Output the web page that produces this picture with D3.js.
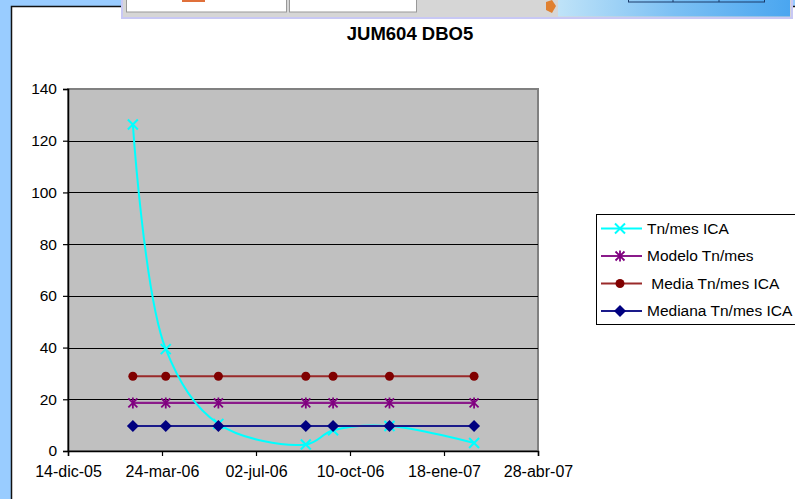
<!DOCTYPE html>
<html>
<head>
<meta charset="utf-8">
<script src="https://cdn.jsdelivr.net/npm/d3@7"></script>
<style>
  body { margin: 0; background: #99ccff; }
  svg { display: block; font-family: "Liberation Sans", Arial, sans-serif; }
</style>
</head>
<body>
<div id="vis"></div>
<script>
// Chart data
const dates = ["2006-02-21", "2006-03-28", "2006-05-23", "2006-08-24", "2006-09-22", "2006-11-21", "2007-02-19"]
const tnMesICA = [126.3, 39.4, 10.5, 2.5, 8.0, 9.7, 3.1]
const modelo = [18.6, 18.6, 18.6, 18.6, 18.6, 18.6, 18.6]
const media = [28.9, 28.9, 28.9, 28.9, 28.9, 28.9, 28.9]
const mediana = [9.7, 9.7, 9.7, 9.7, 9.7, 9.7, 9.7]
const xTickDates = ["2005-12-14", "2006-03-24", "2006-07-02", "2006-10-10", "2007-01-18", "2007-04-28"]
const xTickLabels = ["14-dic-05", "24-mar-06", "02-jul-06", "10-oct-06", "18-ene-07", "28-abr-07"]
const yTicks = [0, 20, 40, 60, 80, 100, 120, 140]
const seriesNames = ["Tn/mes ICA", "Modelo Tn/mes", " Media Tn/mes ICA", "Mediana Tn/mes ICA"]

const W = 795, H = 499
const plot = {left: 68, right: 538, top: 89, bottom: 451}
const parse = d3.utcParse("%Y-%m-%d")

const svg = d3.select("#vis")
    .append("svg")
    .attr("width", W)
    .attr("height", H)

// blue page background + white chart sheet
svg.append("rect").attr("width", W).attr("height", H).attr("fill", "#99ccff")
svg.append("rect").attr("x", 11.5).attr("y", 6.5).attr("width", W).attr("height", H)
    .attr("fill", "#fff").attr("stroke", "#111").attr("stroke-width", 1.5)

// window fragment overlapping the top
const win = svg.append("g")
win.append("rect").attr("x", 122).attr("y", -2).attr("width", 670).attr("height", 20)
    .attr("fill", "#d6d6d6").attr("stroke", "#c8c8f4").attr("stroke-width", 2)
win.append("rect").attr("x", 126.5).attr("y", -2).attr("width", 160).attr("height", 14)
    .attr("fill", "#fff").attr("stroke", "#999")
win.append("rect").attr("x", 289.5).attr("y", -2).attr("width", 127).attr("height", 14)
    .attr("fill", "#fff").attr("stroke", "#999")
win.append("rect").attr("x", 182).attr("y", 0).attr("width", 23).attr("height", 2).attr("fill", "#e0703a")
const grad = svg.append("defs").append("linearGradient").attr("id", "sky")
grad.append("stop").attr("offset", "0%").attr("stop-color", "#bfe3f8")
grad.append("stop").attr("offset", "50%").attr("stop-color", "#7cc0f4")
grad.append("stop").attr("offset", "100%").attr("stop-color", "#4aa6f0")
win.append("rect").attr("x", 558).attr("y", 0).attr("width", 232).attr("height", 16.5).attr("fill", "url(#sky)")
win.append("path").attr("d", "M546,2 L552,0 L556,6 L552,13 L546,10 Z").attr("fill", "#e08030")
win.append("rect").attr("x", 628.5).attr("y", -2).attr("width", 136).attr("height", 4)
    .attr("fill", "none").attr("stroke", "#1a3a6a")
win.append("line").attr("x1", 673).attr("x2", 673).attr("y1", 0).attr("y2", 2).attr("stroke", "#1a3a6a")
win.append("line").attr("x1", 719).attr("x2", 719).attr("y1", 0).attr("y2", 2).attr("stroke", "#1a3a6a")

// title
svg.append("text")
    .attr("x", 410).attr("y", 40)
    .attr("text-anchor", "middle")
    .attr("font-weight", "bold")
    .attr("font-size", "18.5px")
    .text("JUM604 DBO5")

// scales
const x = d3.scaleUtc()
    .domain([parse(xTickDates[0]), parse(xTickDates[xTickDates.length - 1])])
    .range([plot.left, plot.right])
const y = d3.scaleLinear()
    .domain([0, 140])
    .range([plot.bottom, plot.top])

// plot area
svg.append("rect")
    .attr("x", plot.left).attr("y", plot.top)
    .attr("width", plot.right - plot.left).attr("height", plot.bottom - plot.top)
    .attr("fill", "#c0c0c0").attr("stroke", "#808080").attr("stroke-width", 2)

svg.append("g")
    .selectAll("line")
    .data(yTicks.filter(d => d > 0 && d < 140))
    .enter()
    .append("line")
    .attr("x1", plot.left).attr("x2", plot.right)
    .attr("y1", d => Math.round(y(d)) + 0.5).attr("y2", d => Math.round(y(d)) + 0.5)
    .attr("stroke", "#000")

// axes
const yAxis = svg.append("g")
    .attr("transform", `translate(${plot.left},0)`)
    .call(d3.axisLeft(y).tickValues(yTicks).tickSize(5).tickPadding(6))
const xAxis = svg.append("g")
    .attr("transform", `translate(0,${plot.bottom})`)
    .call(d3.axisBottom(x)
        .tickValues(xTickDates.map(parse))
        .tickFormat((d, i) => xTickLabels[i])
        .tickSize(5).tickPadding(10))
svg.selectAll(".domain").attr("stroke", "#000").attr("stroke-width", 1.5)
svg.selectAll(".tick line").attr("stroke", "#000").attr("stroke-width", 1.2)
svg.selectAll(".tick text")
    .attr("font-family", "Liberation Sans, Arial, sans-serif")
    .attr("font-size", "15.5px")
    .attr("fill", "#000")
xAxis.selectAll(".tick text").attr("font-size", "16px")

// series
const colors = ["#00ffff", "#800080", "#800000", "#000080"]
const lineColors = ["#00ffff", "#8a1a8a", "#9a2a2a", "#1a1a8a"]
const allSeries = [tnMesICA, modelo, media, mediana]

function marker(g, type, cx, cy, color) {
    if (type === 0) {
        g.append("path").attr("d", `M${cx-5},${cy-5}L${cx+5},${cy+5}M${cx-5},${cy+5}L${cx+5},${cy-5}`)
            .attr("stroke", color).attr("stroke-width", 2).attr("fill", "none")
    } else if (type === 1) {
        g.append("path").attr("d", `M${cx-4.5},${cy-4.5}L${cx+4.5},${cy+4.5}M${cx-4.5},${cy+4.5}L${cx+4.5},${cy-4.5}M${cx},${cy-5.5}L${cx},${cy+5.5}`)
            .attr("stroke", color).attr("stroke-width", 1.8).attr("fill", "none")
    } else if (type === 2) {
        g.append("circle").attr("cx", cx).attr("cy", cy).attr("r", 4.5).attr("fill", color)
    } else {
        g.append("path").attr("d", `M${cx},${cy-6}L${cx+6},${cy}L${cx},${cy+6}L${cx-6},${cy}Z`).attr("fill", color)
    }
}

const drawOrder = [1, 2, 0, 3]
drawOrder.forEach(si => {
    const pts = dates.map((d, i) => [x(parse(d)), y(allSeries[si][i])])
    const line = d3.line().curve(si === 0 ? d3.curveCatmullRom.alpha(0.5) : d3.curveLinear)
    const g = svg.append("g")
    g.append("path")
        .attr("d", line(pts))
        .attr("fill", "none")
        .attr("stroke", lineColors[si])
        .attr("stroke-width", si === 1 ? 2.4 : 2)
    pts.forEach(p => marker(g, si, p[0], p[1], colors[si]))
})

// legend
const legend = svg.append("g")
legend.append("rect")
    .attr("x", 596.5).attr("y", 214.5).attr("width", 210).attr("height", 110)
    .attr("fill", "#fff").attr("stroke", "#000")
const legendY = [228.5, 256, 283.5, 311]
seriesNames.forEach((name, i) => {
    legend.append("line")
        .attr("x1", 601).attr("x2", 642).attr("y1", legendY[i]).attr("y2", legendY[i])
        .attr("stroke", lineColors[i]).attr("stroke-width", 2)
    marker(legend, i, 620, legendY[i], colors[i])
    legend.append("text")
        .attr("x", 647).attr("y", legendY[i])
        .attr("dy", "0.35em")
        .attr("font-size", "15.5px")
        .attr("xml:space", "preserve")
        .style("white-space", "pre")
        .text(name)
})
</script>
</body>
</html>
